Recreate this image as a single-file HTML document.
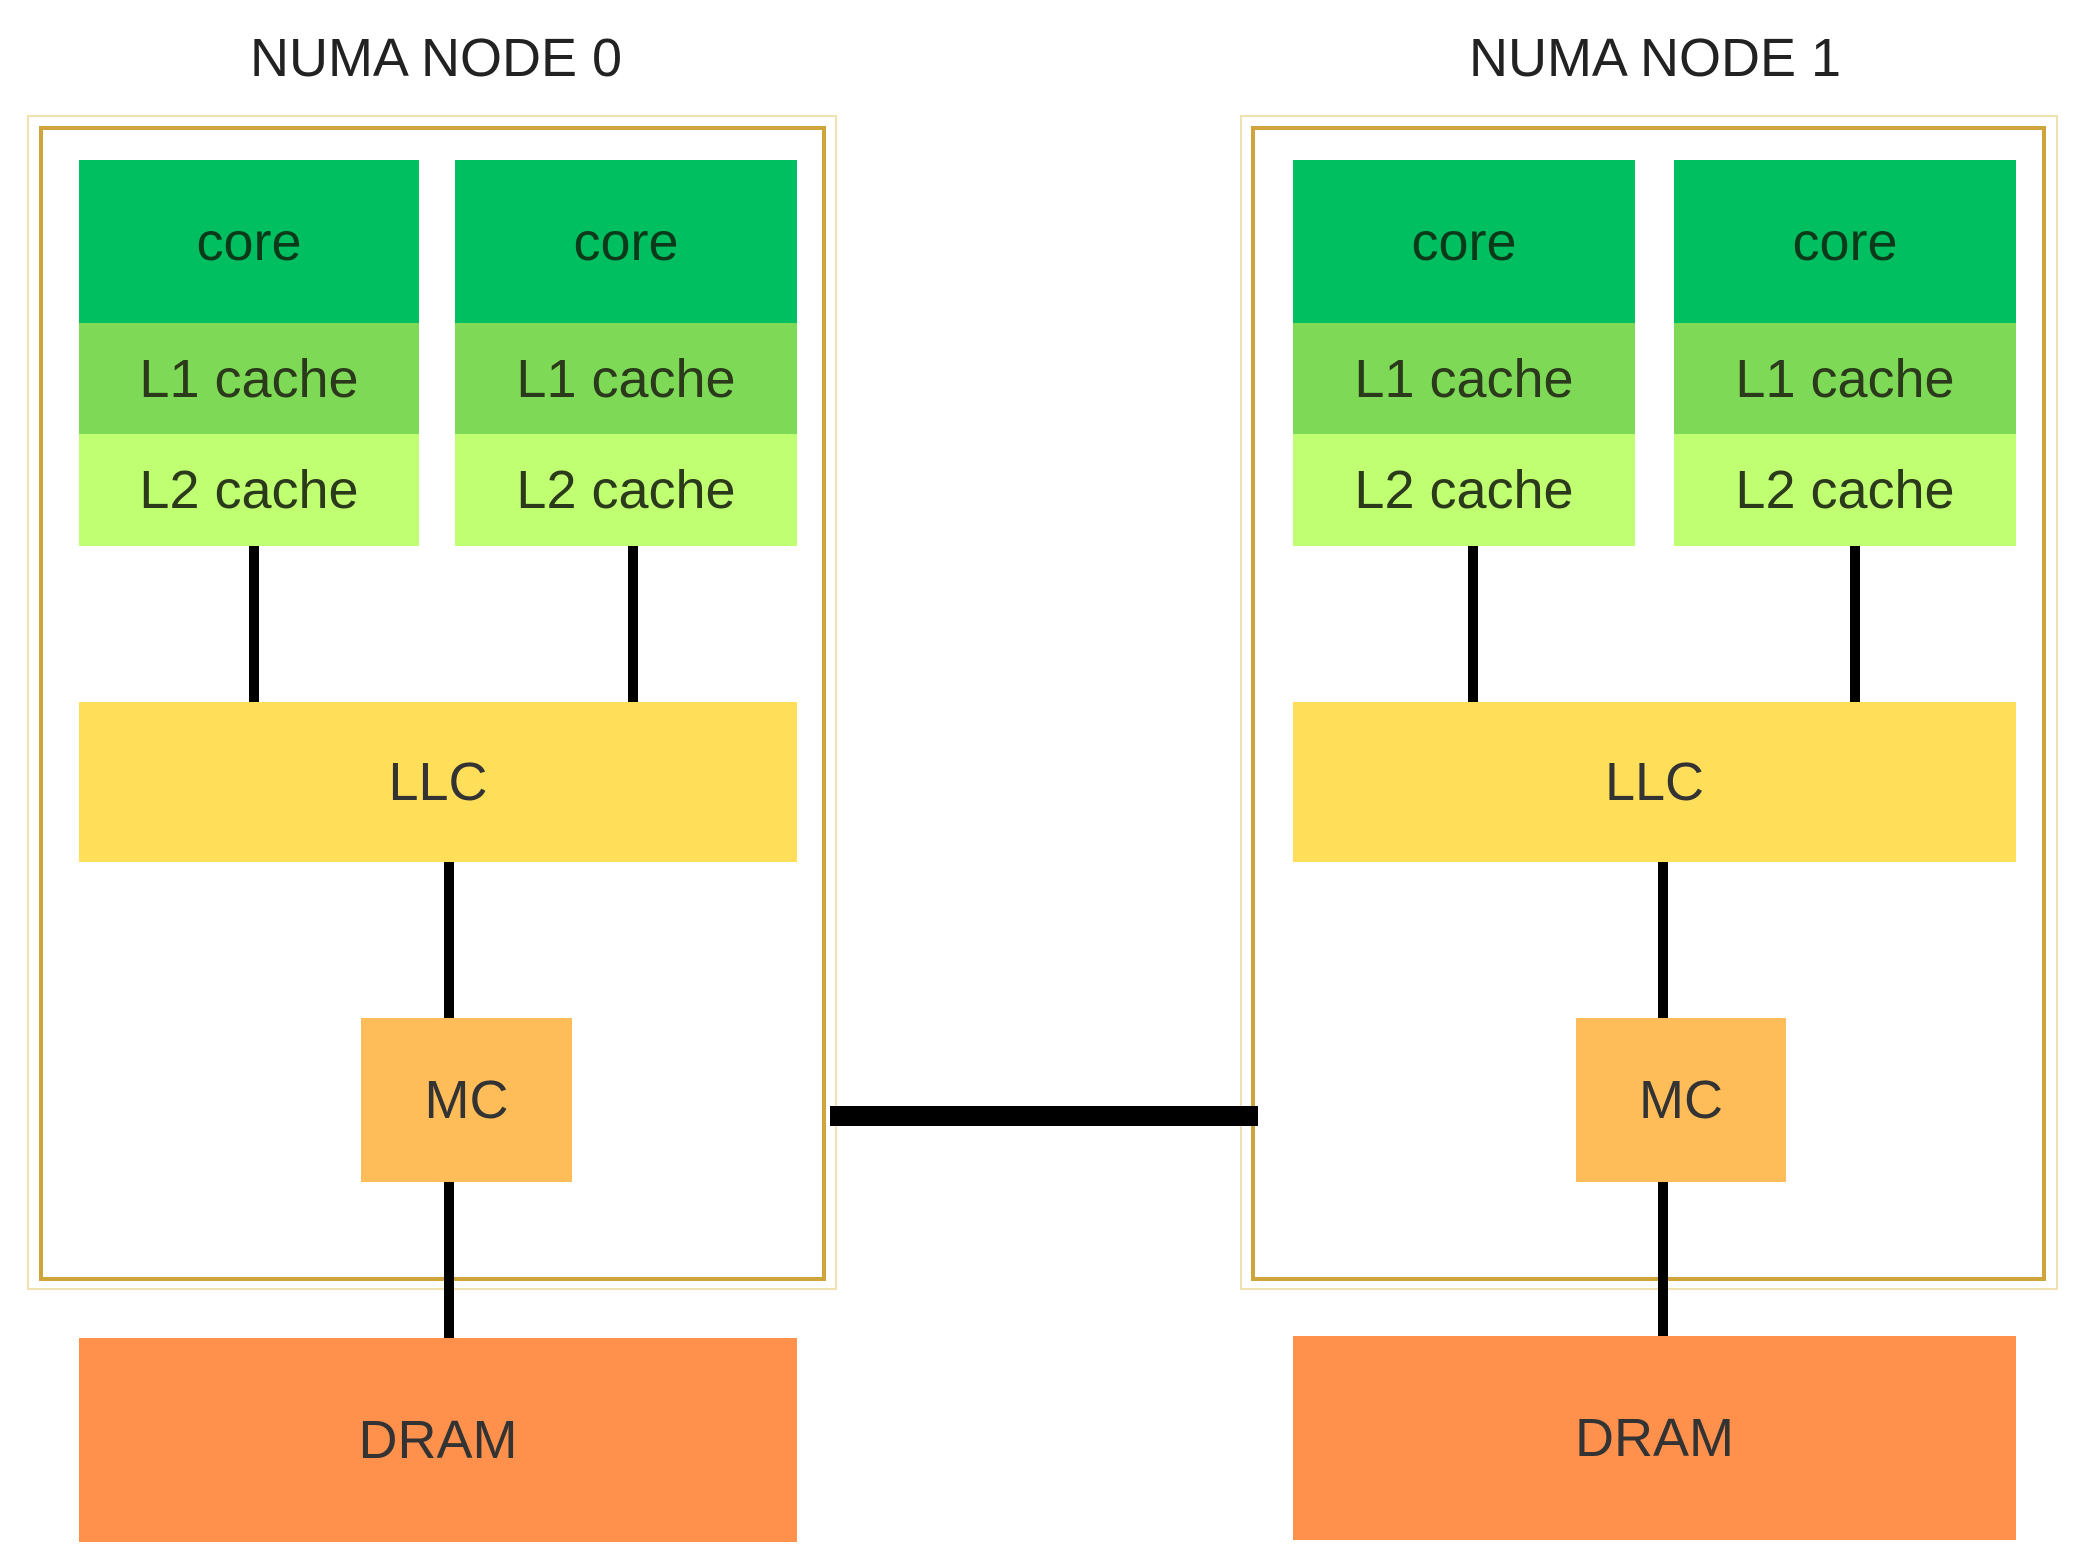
<!DOCTYPE html>
<html><head><meta charset="utf-8"><style>
html,body{margin:0;padding:0;background:#fff;}
body{width:2094px;height:1565px;position:relative;overflow:hidden;font-family:"Liberation Sans",sans-serif;}
.a{position:absolute;box-sizing:border-box;}
.t{display:flex;align-items:center;justify-content:center;color:#2a3a1a;font-size:54px;}
.ln{position:absolute;background:#000;}
.title{position:absolute;font-size:54px;color:#222;text-align:center;width:600px;top:28px;line-height:60px;}
.fo{position:absolute;border:2px solid #f0e2b0;box-sizing:border-box;}
.fi{position:absolute;border:4px solid #cfa43a;box-sizing:border-box;}
</style></head><body>
<div class="title" style="left:136px;">NUMA NODE 0</div>
<div class="title" style="left:1355px;">NUMA NODE 1</div>

<!-- node 0 -->
<div class="fo" style="left:27px;top:115px;width:810px;height:1175px;"></div>
<div class="fi" style="left:39px;top:126px;width:787px;height:1155px;"></div>
<!-- node 1 -->
<div class="fo" style="left:1240px;top:115px;width:818px;height:1175px;"></div>
<div class="fi" style="left:1251px;top:126px;width:795px;height:1155px;"></div>

<!-- connectors -->
<div class="ln" style="left:249px;top:546px;width:10px;height:156px;"></div>
<div class="ln" style="left:628px;top:546px;width:10px;height:156px;"></div>
<div class="ln" style="left:444px;top:862px;width:10px;height:156px;"></div>
<div class="ln" style="left:444px;top:1182px;width:10px;height:156px;"></div>
<div class="ln" style="left:1468px;top:546px;width:10px;height:156px;"></div>
<div class="ln" style="left:1850px;top:546px;width:10px;height:156px;"></div>
<div class="ln" style="left:1658px;top:862px;width:10px;height:156px;"></div>
<div class="ln" style="left:1658px;top:1182px;width:10px;height:156px;"></div>
<div class="ln" style="left:830px;top:1106px;width:428px;height:20px;"></div>

<!-- node 0 boxes -->
<div class="a t" style="left:79px;top:160px;width:340px;height:163px;background:#00bf60;color:#0a3a1a;">core</div>
<div class="a t" style="left:79px;top:323px;width:340px;height:111px;background:#7ed957;">L1 cache</div>
<div class="a t" style="left:79px;top:434px;width:340px;height:112px;background:#c1ff72;">L2 cache</div>
<div class="a t" style="left:455px;top:160px;width:342px;height:163px;background:#00bf60;color:#0a3a1a;">core</div>
<div class="a t" style="left:455px;top:323px;width:342px;height:111px;background:#7ed957;">L1 cache</div>
<div class="a t" style="left:455px;top:434px;width:342px;height:112px;background:#c1ff72;">L2 cache</div>
<div class="a t" style="left:79px;top:702px;width:718px;height:160px;background:#ffde59;color:#333;">LLC</div>
<div class="a t" style="left:361px;top:1018px;width:211px;height:164px;background:#ffbd59;color:#333;">MC</div>
<div class="a t" style="left:79px;top:1338px;width:718px;height:204px;background:#ff914d;color:#333;">DRAM</div>

<!-- node 1 boxes -->
<div class="a t" style="left:1293px;top:160px;width:342px;height:163px;background:#00bf60;color:#0a3a1a;">core</div>
<div class="a t" style="left:1293px;top:323px;width:342px;height:111px;background:#7ed957;">L1 cache</div>
<div class="a t" style="left:1293px;top:434px;width:342px;height:112px;background:#c1ff72;">L2 cache</div>
<div class="a t" style="left:1674px;top:160px;width:342px;height:163px;background:#00bf60;color:#0a3a1a;">core</div>
<div class="a t" style="left:1674px;top:323px;width:342px;height:111px;background:#7ed957;">L1 cache</div>
<div class="a t" style="left:1674px;top:434px;width:342px;height:112px;background:#c1ff72;">L2 cache</div>
<div class="a t" style="left:1293px;top:702px;width:723px;height:160px;background:#ffde59;color:#333;">LLC</div>
<div class="a t" style="left:1576px;top:1018px;width:210px;height:164px;background:#ffbd59;color:#333;">MC</div>
<div class="a t" style="left:1293px;top:1336px;width:723px;height:204px;background:#ff914d;color:#333;">DRAM</div>
</body></html>
